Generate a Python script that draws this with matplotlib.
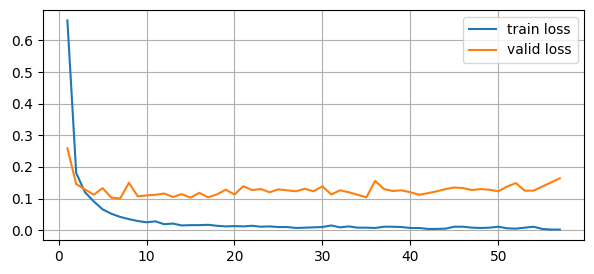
import matplotlib
matplotlib.use('Agg')
import matplotlib.pyplot as plt

epochs = list(range(1, 58))

train_loss = [0.663, 0.181, 0.120, 0.091, 0.066, 0.052, 0.042, 0.035, 0.029, 0.025,
              0.028, 0.019, 0.021, 0.015, 0.016, 0.016, 0.017, 0.014, 0.012, 0.013,
              0.012, 0.014, 0.011, 0.012, 0.010, 0.010, 0.007, 0.008, 0.009, 0.010,
              0.015, 0.009, 0.012, 0.008, 0.008, 0.007, 0.011, 0.011, 0.010, 0.007,
              0.007, 0.004, 0.004, 0.005, 0.011, 0.011, 0.008, 0.007, 0.008, 0.011,
              0.006, 0.005, 0.008, 0.011, 0.004, 0.002, 0.002]

valid_loss = [0.259, 0.146, 0.129, 0.112, 0.133, 0.103, 0.100, 0.150, 0.107, 0.110,
              0.112, 0.116, 0.105, 0.114, 0.103, 0.118, 0.104, 0.113, 0.128, 0.113,
              0.139, 0.127, 0.130, 0.120, 0.129, 0.126, 0.123, 0.131, 0.123, 0.139,
              0.113, 0.126, 0.120, 0.112, 0.104, 0.156, 0.130, 0.124, 0.126, 0.120,
              0.112, 0.117, 0.123, 0.130, 0.135, 0.133, 0.127, 0.130, 0.128, 0.123,
              0.138, 0.149, 0.125, 0.125, 0.138, 0.151, 0.164]

fig = plt.figure(figsize=(5.94, 2.74), dpi=100)
ax = fig.add_axes([0.072, 0.124, 0.912, 0.8395])
ax.plot(epochs, train_loss, label='train loss')
ax.plot(epochs, valid_loss, label='valid loss')
ax.grid(True)
ax.legend(loc='upper right')
fig.savefig('out.png', dpi=100)
